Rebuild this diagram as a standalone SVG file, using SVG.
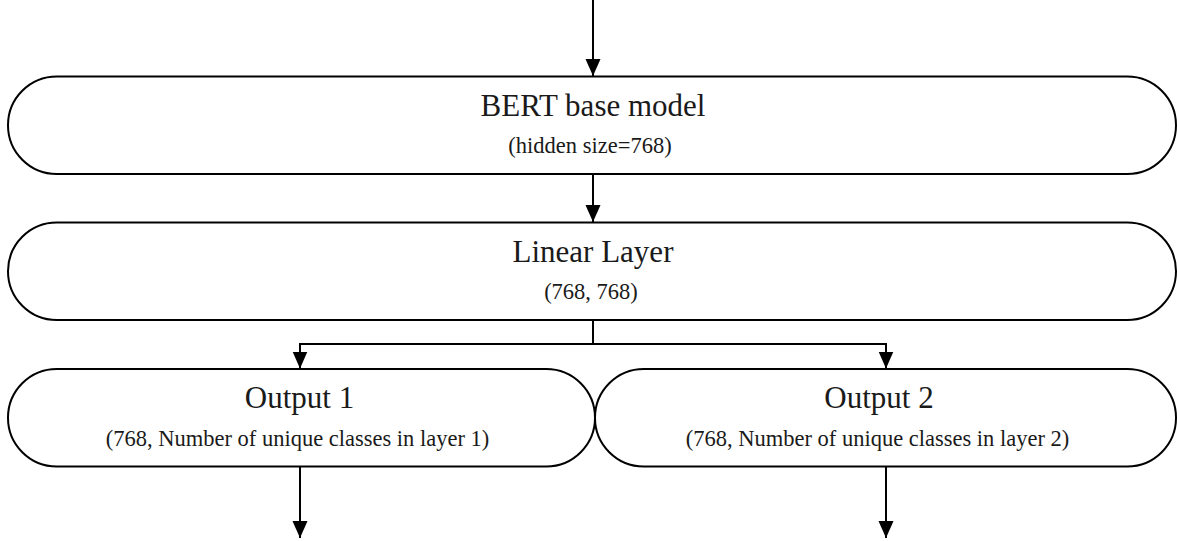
<svg xmlns="http://www.w3.org/2000/svg" width="1177" height="541" viewBox="0 0 1177 541">
  <style>
    .box { fill: #ffffff; stroke: #000000; stroke-width: 2; }
    .title { font-family: "Liberation Serif", "Times New Roman", serif; font-size: 31px; fill: #1a1a1a; text-anchor: middle; }
    .sub { font-family: "Liberation Serif", "Times New Roman", serif; font-size: 22.5px; fill: #1a1a1a; text-anchor: middle; }
    .wire { fill: none; stroke: #000000; stroke-width: 2; }
  </style>
  <defs>
    <marker id="arrow" markerUnits="userSpaceOnUse" markerWidth="18" markerHeight="16" viewBox="0 0 18 16" refX="17" refY="8" orient="auto">
      <path d="M0,0.5 L17,8 L0,15.5 Z" fill="#000000"/>
    </marker>
  </defs>
  <rect x="0" y="0" width="1177" height="541" fill="#ffffff"/>

  <g id="connectors">
    <line class="wire" x1="593" y1="0" x2="593" y2="76" marker-end="url(#arrow)"/>
    <line class="wire" x1="593" y1="174" x2="593" y2="222" marker-end="url(#arrow)"/>
    <polyline class="wire" points="593,320 593,344"/>
    <polyline class="wire" points="300,352 300,344 886,344 886,352"/>
    <line class="wire" x1="300" y1="344" x2="300" y2="368.5" marker-end="url(#arrow)"/>
    <line class="wire" x1="886" y1="344" x2="886" y2="368.5" marker-end="url(#arrow)"/>
    <line class="wire" x1="300" y1="467" x2="300" y2="538" marker-end="url(#arrow)"/>
    <line class="wire" x1="886" y1="467" x2="886" y2="538" marker-end="url(#arrow)"/>
  </g>

  <g id="bert">
    <rect class="box" x="8" y="76.5" width="1168" height="97.5" rx="48.75" ry="48.75"/>
    <text class="title" x="593" y="116">BERT base model</text>
    <text class="sub" x="590" y="153">(hidden size=768)</text>
  </g>

  <g id="linear">
    <rect class="box" x="8" y="222.5" width="1168" height="97.5" rx="48.75" ry="48.75"/>
    <text class="title" x="593" y="262">Linear Layer</text>
    <text class="sub" x="591" y="299">(768, 768)</text>
  </g>

  <g id="output1">
    <rect class="box" x="8" y="369" width="587" height="97.5" rx="48.75" ry="48.75"/>
    <text class="title" x="299.5" y="408">Output 1</text>
    <text class="sub" x="297.5" y="445.5">(768, Number of unique classes in layer 1)</text>
  </g>

  <g id="output2">
    <rect class="box" x="595" y="369" width="581" height="97.5" rx="48.75" ry="48.75"/>
    <text class="title" x="879" y="408">Output 2</text>
    <text class="sub" x="877.5" y="445.5">(768, Number of unique classes in layer 2)</text>
  </g>
</svg>
